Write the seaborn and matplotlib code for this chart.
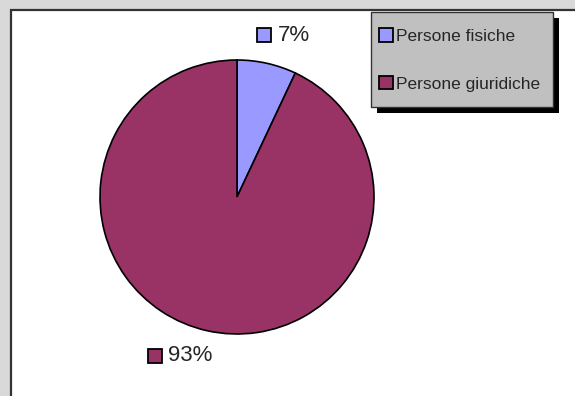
import matplotlib.pyplot as plt
import matplotlib
import seaborn as sns
from matplotlib.patches import Rectangle

sns.set_style('white')
matplotlib.rcParams['font.family'] = ['Liberation Sans', 'DejaVu Sans']

categories = ['Persone fisiche', 'Persone giuridiche']
values = [7, 93]
colors = ['#9999ff', '#993366']
# label anchors (data units, pie radius = 1)
label_pos = [(0.20, 1.18), (-0.60, -1.16)]

fig = plt.figure(figsize=(5.75, 3.96), dpi=100, facecolor='#d9d9d9')
W, H = 575, 396

# white plot area with dark border
fig.patches.append(Rectangle((10.5 / W, -0.1), 1.2, (H - 9.5) / H + 0.1,
                             transform=fig.transFigure, facecolor='white',
                             edgecolor='#333333', lw=1.6, zorder=-2))

ax = fig.add_axes([100 / W, (H - 334) / H, 274 / W, 274 / H])
ax.set_zorder(1)
wedges, _ = ax.pie(values, colors=colors, startangle=90, counterclock=False,
                   wedgeprops=dict(edgecolor='black', linewidth=1.2))
ax.set_xlim(-1, 1)
ax.set_ylim(-1, 1)
ax.set_aspect('equal')
ax.axis('off')

for (x, y), v, c in zip(label_pos, values, colors):
    ax.plot([x], [y], marker='s', ms=10.5, mfc=c, mec='black', mew=1.3,
            clip_on=False)
    ax.text(x + 0.095, y, f'{v}%', fontsize=16, va='center', ha='left',
            clip_on=False)

# legend box with black shadow
bx, by, bw, bh = 371, 12, 182, 95
fig.patches.append(Rectangle(((bx + 6) / W, 1 - (by + bh + 6) / H), bw / W, bh / H,
                             transform=fig.transFigure, facecolor='black',
                             edgecolor='none', zorder=2))
fig.patches.append(Rectangle((bx / W, 1 - (by + bh) / H), bw / W, bh / H,
                             transform=fig.transFigure, facecolor='#c0c0c0',
                             edgecolor='#333333', lw=1.0, zorder=3))
leg = fig.legend(wedges, categories, loc='upper left',
                 bbox_to_anchor=(379 / W, 1 - 28 / H), frameon=False,
                 fontsize=12.5, handlelength=0.82, handleheight=0.82,
                 handletextpad=0.15, labelspacing=1.85, borderpad=0,
                 borderaxespad=0)
leg.set_zorder(5)
for h in leg.legend_handles:
    h.set_linewidth(1.3)

plt.savefig('out.png', dpi=100, facecolor=fig.get_facecolor())
